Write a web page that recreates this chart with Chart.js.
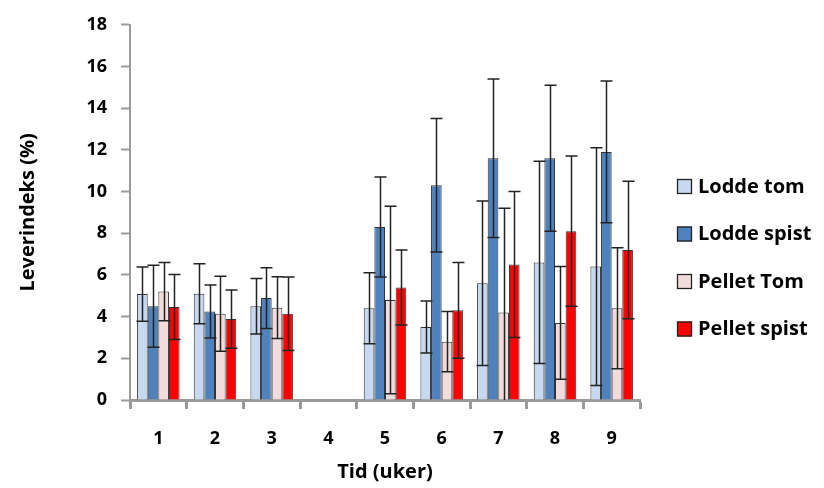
<!DOCTYPE html>
<html>
<head>
<meta charset="utf-8">
<script src="https://cdn.jsdelivr.net/npm/chart.js@4.4.1/dist/chart.umd.min.js"></script>
<style>
  html, body { margin: 0; padding: 0; background: #fff; }
  #wrap { width: 824px; height: 488px; position: relative; }
</style>
</head>
<body>
<div id="wrap"><canvas id="chart"></canvas></div>
<script>
const weeks = ['1', '2', '3', '4', '5', '6', '7', '8', '9'];
const yTicks = [0, 2, 4, 6, 8, 10, 12, 14, 16, 18];

const loddeTom = [5.08, 5.1, 4.5, null, 4.4, 3.5, 5.6, 6.6, 6.4];
const loddeTomErr = [1.3, 1.44, 1.33, null, 1.7, 1.25, 3.95, 4.85, 5.7];
const loddeSpist = [4.5, 4.25, 4.89, null, 8.3, 10.3, 11.6, 11.6, 11.9];
const loddeSpistErr = [1.97, 1.27, 1.46, null, 2.4, 3.2, 3.8, 3.5, 3.4];
const pelletTom = [5.2, 4.14, 4.43, null, 4.8, 2.8, 4.2, 3.7, 4.4];
const pelletTomErr = [1.4, 1.8, 1.48, null, 4.5, 1.45, 5.0, 2.7, 2.9];
const pelletSpist = [4.46, 3.88, 4.14, null, 5.4, 4.3, 6.5, 8.1, 7.2];
const pelletSpistErr = [1.56, 1.4, 1.76, null, 1.8, 2.3, 3.5, 3.6, 3.3];

const FONT = '"Open Sans", "DejaVu Sans", sans-serif';
const AXIS_GRAY = '#9a9a9a';

// error bars drawn with the chart's own y scale
const errorBars = {
  id: 'errorBars',
  afterDatasetsDraw(chart) {
    const ctx = chart.ctx;
    const y = chart.scales.y;
    const area = chart.chartArea;
    ctx.save();
    ctx.beginPath();
    ctx.rect(area.left, area.top - 2, area.right - area.left, area.bottom - area.top + 2);
    ctx.clip();
    ctx.strokeStyle = '#222';
    ctx.lineWidth = 1.5;
    chart.data.datasets.forEach((ds, di) => {
      const meta = chart.getDatasetMeta(di);
      meta.data.forEach((bar, i) => {
        const v = ds.data[i];
        const e = ds.errors[i];
        if (v == null || e == null) return;
        const x = Math.round(bar.x) + 0.5;
        const top = y.getPixelForValue(v + e);
        const bot = y.getPixelForValue(v - e);
        const half = 6;
        ctx.beginPath();
        ctx.moveTo(x, top);
        ctx.lineTo(x, bot);
        ctx.moveTo(x - half, top);
        ctx.lineTo(x + half, top);
        ctx.moveTo(x - half, bot);
        ctx.lineTo(x + half, bot);
        ctx.stroke();
      });
    });
    ctx.restore();
  }
};

// legend at the right, square swatches
const sideLegend = {
  id: 'sideLegend',
  afterDraw(chart) {
    const ctx = chart.ctx;
    const startY = 186;
    const step = 47.5;
    ctx.save();
    ctx.font = 'bold 20px ' + FONT;
    ctx.textBaseline = 'middle';
    chart.data.datasets.forEach((ds, i) => {
      const cy = startY + i * step;
      ctx.fillStyle = ds.backgroundColor;
      ctx.fillRect(677, cy - 7, 15, 15);
      ctx.strokeStyle = '#222';
      ctx.lineWidth = 1.3;
      ctx.strokeRect(677.5, cy - 6.5, 14, 14);
      ctx.fillStyle = '#000';
      ctx.fillText(ds.label, 698, cy + 1);
    });
    ctx.restore();
  }
};

function series(label, data, errors, color) {
  return {
    label,
    data,
    errors,
    backgroundColor: color,
    borderColor: '#333',
    borderWidth: 1,
    categoryPercentage: 0.75,
    barPercentage: 1.0,
  };
}

new Chart(document.getElementById('chart'), {
  type: 'bar',
  data: {
    labels: weeks,
    datasets: [
      series('Lodde tom', loddeTom, loddeTomErr, '#c6d9f1'),
      series('Lodde spist', loddeSpist, loddeSpistErr, '#4f81bd'),
      series('Pellet Tom', pelletTom, pelletTomErr, '#f2dcdb'),
      series('Pellet spist', pelletSpist, pelletSpistErr, '#ff0000'),
    ],
  },
  options: {
    responsive: true,
    maintainAspectRatio: false,
    animation: false,
    layout: { padding: { left: 12, right: 184, top: 13, bottom: 2 } },
    plugins: {
      legend: { display: false },
      tooltip: { enabled: false },
    },
    scales: {
      x: {
        afterFit: (s) => { s.height = 86; },
        grid: {
          display: true,
          drawOnChartArea: false,
          drawTicks: true,
          tickLength: 9,
          tickWidth: 3,
          tickColor: AXIS_GRAY,
          offset: true,
        },
        border: { color: AXIS_GRAY, width: 3 },
        ticks: {
          color: '#000',
          padding: 19,
          font: { family: FONT, size: 18, weight: 'bold' },
        },
        title: {
          display: true,
          text: 'Tid (uker)',
          color: '#000',
          padding: { top: 4, bottom: 2 },
          font: { family: FONT, size: 20, weight: 'bold' },
        },
      },
      y: {
        min: 0,
        max: 18,
        afterFit: (s) => { s.width = 118; },
        afterBuildTicks: (s) => { s.ticks = yTicks.map(v => ({ value: v })); },
        grid: {
          display: true,
          drawOnChartArea: false,
          tickLength: 9,
          tickWidth: 2,
          tickColor: AXIS_GRAY,
        },
        border: { color: AXIS_GRAY, width: 2 },
        ticks: {
          color: '#000',
          padding: 14,
          font: { family: FONT, size: 18, weight: 'bold' },
        },
        title: {
          display: true,
          text: 'Leverindeks (%)',
          color: '#000',
          padding: { top: 4, bottom: 4 },
          font: { family: FONT, size: 20, weight: 'bold' },
        },
      },
    },
  },
  plugins: [errorBars, sideLegend],
});
</script>
</body>
</html>
